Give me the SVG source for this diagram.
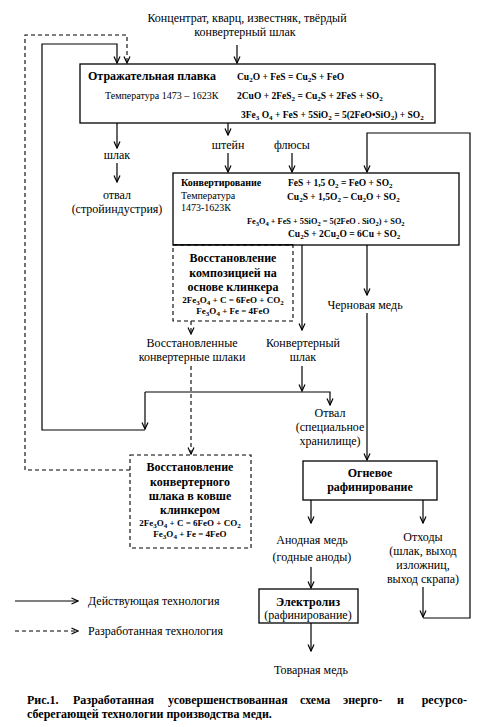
<svg xmlns="http://www.w3.org/2000/svg" width="484" height="727" viewBox="0 0 484 727">
<style>
text{font-family:"Liberation Serif","Times New Roman",serif;fill:#000}
.t{font-size:12px}
.c{text-anchor:middle}
.b{font-weight:bold}
.f{font-size:9.5px;font-weight:bold}
.fs{font-size:9px;font-weight:bold}
.s{font-size:10px}
.sb{font-size:10px;font-weight:bold}
.ln{fill:none;stroke:#000;stroke-width:1.2}
.dl{fill:none;stroke:#000;stroke-width:1.1;stroke-dasharray:4 3}
.box{fill:#fff;stroke:#000;stroke-width:1.3}
.dbox{fill:#fff;stroke:#000;stroke-width:1.1;stroke-dasharray:4 3}
</style>
<defs>
<marker id="a" viewBox="0 0 8 8" refX="7.5" refY="4" markerWidth="8" markerHeight="8" markerUnits="userSpaceOnUse" orient="auto">
<path d="M1,1 L7.5,4 L1,7" fill="none" stroke="#000" stroke-width="1.2"/>
</marker>
</defs>

<g id="input">
<text class="t c" x="247" y="22">Концентрат, кварц, известняк, твёрдый</text>
<text class="t c" x="245" y="36">конвертерный шлак</text>
</g>

<g id="connectors">
<line class="ln" x1="237" y1="45" x2="237" y2="63" marker-end="url(#a)"/>
<line class="ln" x1="117" y1="123" x2="117" y2="148" marker-end="url(#a)"/>
<line class="ln" x1="117" y1="163" x2="117" y2="182" marker-end="url(#a)"/>
<line class="ln" x1="228" y1="123" x2="228" y2="135" marker-end="url(#a)"/>
<line class="ln" x1="228" y1="153" x2="228" y2="172" marker-end="url(#a)"/>
<line class="ln" x1="292" y1="153" x2="292" y2="172" marker-end="url(#a)"/>
<line class="dl" x1="191" y1="321" x2="191" y2="334" marker-end="url(#a)"/>
<line class="dl" x1="191" y1="366" x2="191" y2="454" marker-end="url(#a)"/>
<polyline class="dl" points="130,470 25,470 25,35 127,35 127,63" marker-end="url(#a)"/>
<line class="ln" x1="302" y1="245" x2="302" y2="330" marker-end="url(#a)"/>
<line class="ln" x1="302" y1="366" x2="302" y2="391" marker-end="url(#a)"/>
<polyline class="ln" points="145,392 330,392 330,405" marker-end="url(#a)"/>
<line class="ln" x1="145" y1="392" x2="145" y2="429" marker-end="url(#a)"/>
<polyline class="ln" points="145,430 42,430 42,44 117,44 117,63" marker-end="url(#a)"/>
<line class="ln" x1="367" y1="245" x2="367" y2="295" marker-end="url(#a)"/>
<line class="ln" x1="367" y1="313" x2="367" y2="460" marker-end="url(#a)"/>
<line class="ln" x1="311" y1="500" x2="311" y2="523" marker-end="url(#a)"/>
<line class="ln" x1="423" y1="500" x2="423" y2="523" marker-end="url(#a)"/>
<line class="ln" x1="311" y1="567" x2="311" y2="588" marker-end="url(#a)"/>
<line class="ln" x1="423" y1="587" x2="423" y2="617" marker-end="url(#a)"/>
<polyline class="ln" points="423,618 470,618 470,133 367,133 367,172" marker-end="url(#a)"/>
<line class="ln" x1="311" y1="623" x2="311" y2="651" marker-end="url(#a)"/>
<line class="ln" x1="15" y1="601" x2="78" y2="601" marker-end="url(#a)"/>
<line class="dl" x1="15" y1="631" x2="78" y2="631" marker-end="url(#a)"/>
</g>

<g id="reverb">
<rect class="box" x="80" y="64" width="355" height="59"/>
<text class="t b" x="88" y="80">Отражательная плавка</text>
<text class="s" x="105" y="99">Температура 1473 – 1623К</text>
<text class="f" x="237" y="80">Cu<tspan font-size="7" dy="2">2</tspan><tspan dy="-2">O  +  FeS = Cu</tspan><tspan font-size="7" dy="2">2</tspan><tspan dy="-2">S + FeO</tspan></text>
<text class="f" x="237" y="99">2CuO + 2FeS<tspan font-size="7" dy="2">2</tspan><tspan dy="-2"> = Cu</tspan><tspan font-size="7" dy="2">2</tspan><tspan dy="-2">S + 2FeS + SO</tspan><tspan font-size="7" dy="2">2</tspan></text>
<text class="f" x="241" y="118">3Fe<tspan font-size="7" dy="2">3</tspan><tspan dy="-2"> O</tspan><tspan font-size="7" dy="2">4</tspan><tspan dy="-2"> + FeS + 5SiO</tspan><tspan font-size="7" dy="2">2</tspan><tspan dy="-2"> = 5(2FeO•SiO</tspan><tspan font-size="7" dy="2">2</tspan><tspan dy="-2">) + SO</tspan><tspan font-size="7" dy="2">2</tspan></text>
</g>

<g id="slag1">
<text class="t c" x="117" y="159">шлак</text>
<text class="t c" x="117" y="199">отвал</text>
<text class="t c" x="117" y="213">(стройиндустрия)</text>
</g>
<g id="matte"><text class="t c" x="228" y="149">штейн</text></g>
<g id="flux"><text class="t c" x="292" y="149">флюсы</text></g>

<g id="converting">
<rect class="box" x="173" y="173" width="286" height="72"/>
<text class="sb" x="181" y="186">Конвертирование</text>
<text class="s" x="181" y="199">Температура</text>
<text class="s" x="181" y="211">1473-1623К</text>
<text class="f" x="288" y="186">FeS + 1,5 O<tspan font-size="7" dy="2">2</tspan><tspan dy="-2">  = FeO + SO</tspan><tspan font-size="7" dy="2">2</tspan></text>
<text class="f" x="287" y="200">Cu<tspan font-size="7" dy="2">2</tspan><tspan dy="-2">S + 1,5O</tspan><tspan font-size="7" dy="2">2</tspan><tspan dy="-2"> – Cu</tspan><tspan font-size="7" dy="2">2</tspan><tspan dy="-2">O + SO</tspan><tspan font-size="7" dy="2">2</tspan></text>
<text x="247" y="224" font-size="8.3" font-weight="bold">Fe<tspan font-size="6.5" dy="2">3</tspan><tspan dy="-2">O</tspan><tspan font-size="6.5" dy="2">4</tspan><tspan dy="-2"> + FeS + 5SiO</tspan><tspan font-size="6.5" dy="2">2</tspan><tspan dy="-2"> = 5(2FeO . SiO</tspan><tspan font-size="6.5" dy="2">2</tspan><tspan dy="-2">) + SO</tspan><tspan font-size="6.5" dy="2">2</tspan></text>
<text class="f" x="288" y="237">Cu<tspan font-size="7" dy="2">2</tspan><tspan dy="-2">S + 2Cu</tspan><tspan font-size="7" dy="2">2</tspan><tspan dy="-2">O = 6Cu + SO</tspan><tspan font-size="7" dy="2">2</tspan></text>
</g>

<g id="reduction1">
<rect class="dbox" x="173" y="245" width="120" height="76"/>
<line x1="173" y1="245" x2="293" y2="245" stroke="#000" stroke-width="1.3"/>
<text class="t b c" x="233" y="262">Восстановление</text>
<text class="t b c" x="233" y="277">композицией на</text>
<text class="t b c" x="233" y="291">основе клинкера</text>
<text class="fs c" x="233" y="303">2Fe<tspan font-size="7" dy="2">3</tspan><tspan dy="-2">O</tspan><tspan font-size="7" dy="2">4</tspan><tspan dy="-2"> + C = 6FeO + CO</tspan><tspan font-size="7" dy="2">2</tspan></text>
<text class="fs c" x="233" y="314">Fe<tspan font-size="7" dy="2">3</tspan><tspan dy="-2">O</tspan><tspan font-size="7" dy="2">4</tspan><tspan dy="-2"> + Fe = 4FeO</tspan></text>
</g>

<g id="reduced-slag">
<text class="t c" x="192" y="347">Восстановленные</text>
<text class="t c" x="192" y="361">конвертерные шлаки</text>
</g>

<g id="conv-slag">
<text class="t c" x="303" y="347">Конвертерный</text>
<text class="t c" x="303" y="361">шлак</text>
</g>

<g id="dump2">
<text class="t c" x="330" y="417">Отвал</text>
<text class="t c" x="330" y="431">(специальное</text>
<text class="t c" x="330" y="445">хранилище)</text>
</g>

<g id="blister">
<text class="t c" x="365" y="309">Черновая медь</text>
</g>

<g id="reduction2">
<rect class="dbox" x="130" y="455" width="121" height="93"/>
<text class="t b c" x="190" y="471">Восстановление</text>
<text class="t b c" x="190" y="486">конвертерного</text>
<text class="t b c" x="190" y="500">шлака в ковше</text>
<text class="t b c" x="190" y="514">клинкером</text>
<text class="fs c" x="190" y="526">2Fe<tspan font-size="7" dy="2">3</tspan><tspan dy="-2">O</tspan><tspan font-size="7" dy="2">4</tspan><tspan dy="-2"> + C = 6FeO + CO</tspan><tspan font-size="7" dy="2">2</tspan></text>
<text class="fs c" x="190" y="537">Fe<tspan font-size="7" dy="2">3</tspan><tspan dy="-2">O</tspan><tspan font-size="7" dy="2">4</tspan><tspan dy="-2"> + Fe = 4FeO</tspan></text>
</g>

<g id="fire-refining">
<rect class="box" x="303" y="461" width="134" height="39"/>
<text class="t b c" x="370" y="477">Огневое</text>
<text class="t b c" x="370" y="491">рафинирование</text>
</g>

<g id="anode">
<text class="t c" x="312" y="544">Анодная медь</text>
<text class="t c" x="312" y="561">(годные аноды)</text>
</g>

<g id="waste">
<text class="t c" x="423" y="541">Отходы</text>
<text class="t c" x="423" y="555">(шлак, выход</text>
<text class="t c" x="423" y="569">изложниц,</text>
<text class="t c" x="423" y="583">выход скрапа)</text>
</g>

<g id="electrolysis">
<rect class="box" x="259" y="589" width="99" height="34"/>
<text class="t b c" x="308" y="606">Электролиз</text>
<text class="t c" x="308" y="619">(рафинирование)</text>
</g>

<g id="product">
<text class="t c" x="311" y="674">Товарная медь</text>
</g>

<g id="legend">
<text class="t" x="88" y="605">Действующая технология</text>
<text class="t" x="88" y="635">Разработанная технология</text>
</g>

<g id="caption">
<text class="t b" y="704"><tspan x="27">Рис.1.</tspan><tspan x="73">Разработанная</tspan><tspan x="168">усовершенствованная</tspan><tspan x="300">схема</tspan><tspan x="343">энерго-</tspan><tspan x="397">и</tspan><tspan x="467" text-anchor="end">ресурсо-</tspan></text>
<text class="t b" x="27" y="718">сберегающей технологии производства меди.</text>
</g>
</svg>
